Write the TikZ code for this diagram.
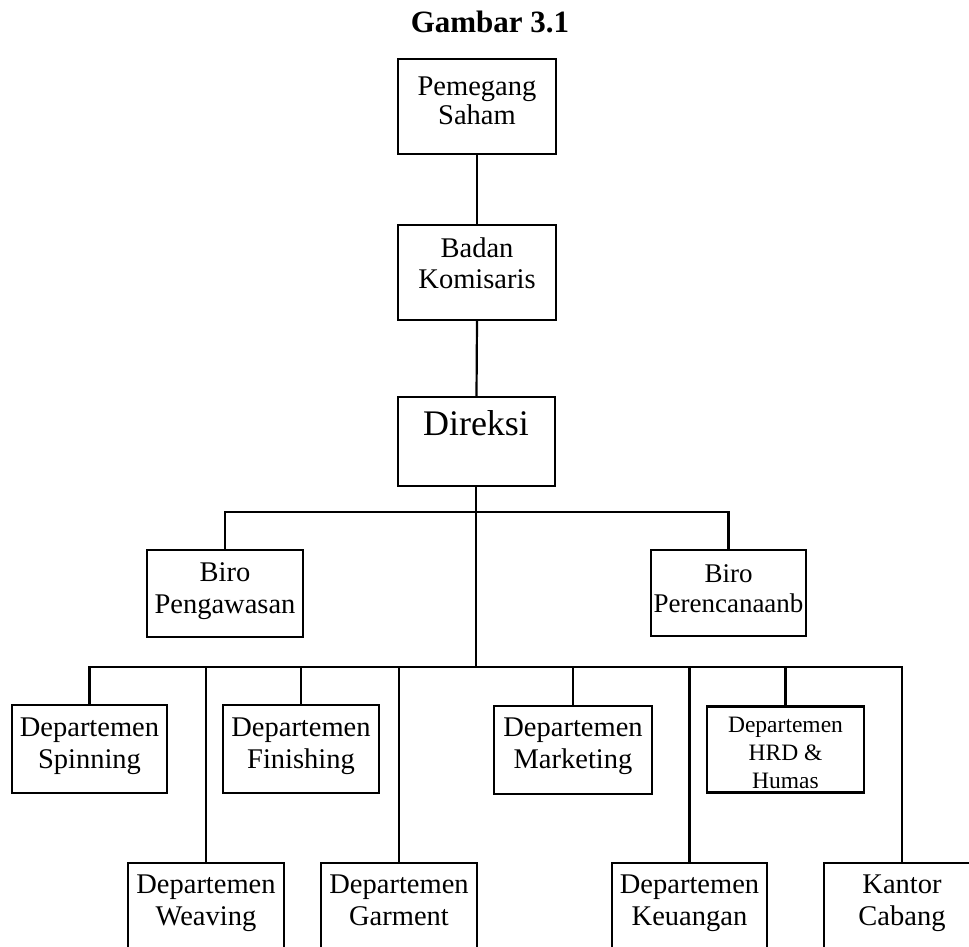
\documentclass[tikz,border=0pt]{standalone}
\usepackage{fontspec}
\setmainfont{Liberation Serif}
\begin{document}
\begin{tikzpicture}[x=1pt,y=-1pt,
  box/.style={draw,line width=2.2pt,inner sep=0pt,minimum width=#1},
  box/.default=156pt,
  txt/.style={anchor=north,inner sep=0pt,align=center,font=\fontsize{28.5}{32}\selectfont},
  txtsm/.style={anchor=north,inner sep=0pt,align=center,font=\fontsize{27}{30}\selectfont},
  line/.style={line width=2.2pt}]
\useasboundingbox (0,0) rectangle (969,947);
\clip (0,0) rectangle (969,947);
% title
\node[anchor=base,inner sep=0pt,font=\fontsize{31}{34}\selectfont\bfseries] (title) at (490,33) {Gambar 3.1};
% top chain
\node[box=158pt,minimum height=95pt] (pem) at (477,106.5) {};
\node[txt,font=\fontsize{28.5}{29}\selectfont] (pemt) at (477,77) {Pemegang\\Saham};
\node[box=158pt,minimum height=95pt] (bad) at (477,272.5) {};
\node[txt,font=\fontsize{28.5}{31}\selectfont] (badt) at (477,238) {Badan\\Komisaris};
\node[box=157pt,minimum height=89pt] (dir) at (476.5,441.5) {};
\node[inner sep=0pt,anchor=base,font=\fontsize{36}{40}\selectfont] (dirt) at (476,435) {Direksi};
% biro
\node[box=156pt,minimum height=87pt] (bpg) at (225,593.5) {};
\node[txt] (bpgt) at (225,562) {Biro\\Pengawasan};
\node[box=155pt,minimum height=86pt] (bpr) at (728.5,593) {};
\node[txtsm] (bprt) at (728.5,564) {Biro\\Perencanaanb};
% row 1
\node[box=155pt,minimum height=88pt] (spin) at (89.5,749) {};
\node[txt] (spint) at (89.5,718) {Departemen\\Spinning};
\node[box=156pt,minimum height=88pt] (fin) at (301,749) {};
\node[txt] (fint) at (301,718) {Departemen\\Finishing};
\node[box=158pt,minimum height=88pt] (mkt) at (573,750) {};
\node[txt] (mktt) at (573,718) {Departemen\\Marketing};
\node[box=157pt,minimum height=86pt] (hrd) at (785.5,749.5) {};
\node[txtsm,font=\fontsize{23.5}{28}\selectfont] (hrdt) at (785.5,716.5) {Departemen\\HRD \&\\Humas};
% row 2 (boxes run past the bottom edge)
\node[box=156pt,minimum height=130pt] (wea) at (206,928) {};
\node[txt] (weat) at (206,875) {Departemen\\Weaving};
\node[box=156pt,minimum height=130pt] (gar) at (399,928) {};
\node[txt] (gart) at (399,875) {Departemen\\Garment};
\node[box=155pt,minimum height=130pt] (keu) at (689.5,928) {};
\node[txt] (keut) at (689.5,875) {Departemen\\Keuangan};
\node[box=156pt,minimum height=130pt] (kan) at (902,928) {};
\node[txt] (kant) at (902,875) {Kantor\\Cabang};
% bus coordinates
\coordinate (busA) at (476,512);
\coordinate (busB) at (476,667);
% connectors
\draw[line] (pem.south) -- (bad.north);
\draw[line] (bad.south) -- (dir.north);
\draw[line] (dir.south -| busB) -- (busB);
\draw[line] (bpg.north) -- (bpg.north |- busA) -- (bpr.north |- busA) -- (bpr.north);
\draw[line] (spin.north) -- (spin.north |- busB) -- (kan.north |- busB) -- (kan.north);
\foreach \n in {wea,fin,gar,mkt,keu,hrd}
  \draw[line] (\n.north) -- (\n.north |- busB);
\end{tikzpicture}
\end{document}
